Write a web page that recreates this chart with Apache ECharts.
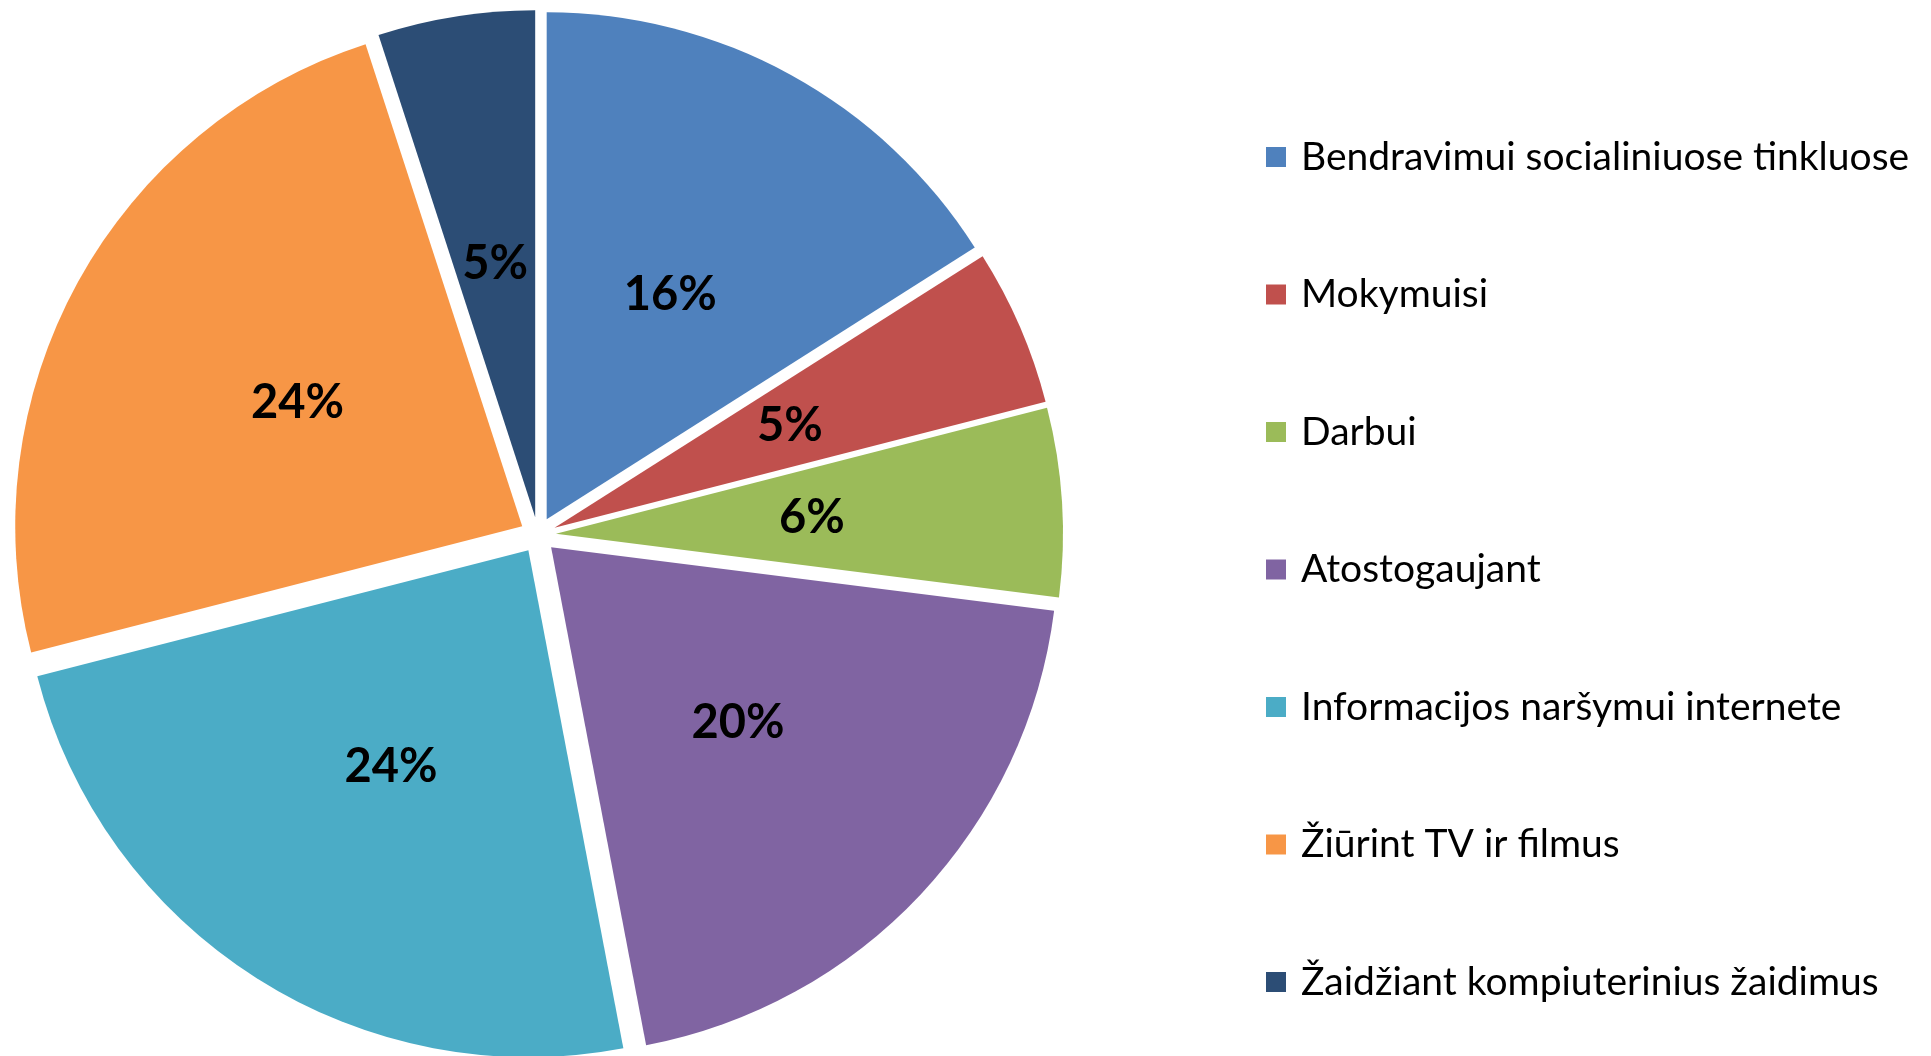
<!DOCTYPE html>
<html>
<head>
<meta charset="utf-8">
<script src="https://cdn.jsdelivr.net/npm/echarts@6/dist/echarts.min.js"></script>
<style>
  html, body { margin: 0; padding: 0; background: #fff; }
  #chart { width: 1931px; height: 1056px; }
</style>
</head>
<body>
<div id="chart"></div>
<script>
    // kategorijos ir reikšmės (%)
    var categories = [
        'Bendravimui socialiniuose tinkluose',
        'Mokymuisi',
        'Darbui',
        'Atostogaujant',
        'Informacijos naršymui internete',
        'Žiūrint TV ir filmus',
        'Žaidžiant kompiuterinius žaidimus'
    ];
    var values = [16, 5, 6, 20, 24, 24, 5];
    var colors = ['#4F81BD', '#C0504D', '#9BBB59', '#8064A2', '#4BACC6', '#F79646', '#2C4D75'];

    var myChart = echarts.init(document.getElementById('chart'));

    var pieData = categories.map(function (name, i) {
        return {
            name: name,
            value: values[i],
            selected: true,
            itemStyle: {color: colors[i]}
        };
    });

    var option = {
        animation: false,
        color: colors,
        legend: {
            orient: 'vertical',
            left: 1261,
            top: 132,
            itemWidth: 20,
            itemHeight: 20,
            itemGap: 97.5,
            icon: 'rect',
            selectedMode: false,
            textStyle: {
                fontFamily: 'Lato',
                fontSize: 39,
                lineHeight: 40,
                color: '#000',
                padding: [0, 0, 0, 10]
            },
            data: categories
        },
        series: [
            {
                type: 'pie',
                center: [538, 535],
                radius: [0, 507],
                startAngle: 90,
                clockwise: true,
                selectedMode: 'multiple',
                selectedOffset: 18,
                select: {itemStyle: {borderWidth: 0}},
                emphasis: {disabled: true},
                label: {
                    show: true,
                    position: 'inside',
                    formatter: '{c}%',
                    fontFamily: 'Lato',
                    fontWeight: 'bold',
                    fontSize: 47,
                    color: '#000',
                    offset: [0, 6]
                },
                labelLine: {show: false},
                data: pieData
            }
        ]
    };

    myChart.setOption(option);
</script>
</body>
</html>
